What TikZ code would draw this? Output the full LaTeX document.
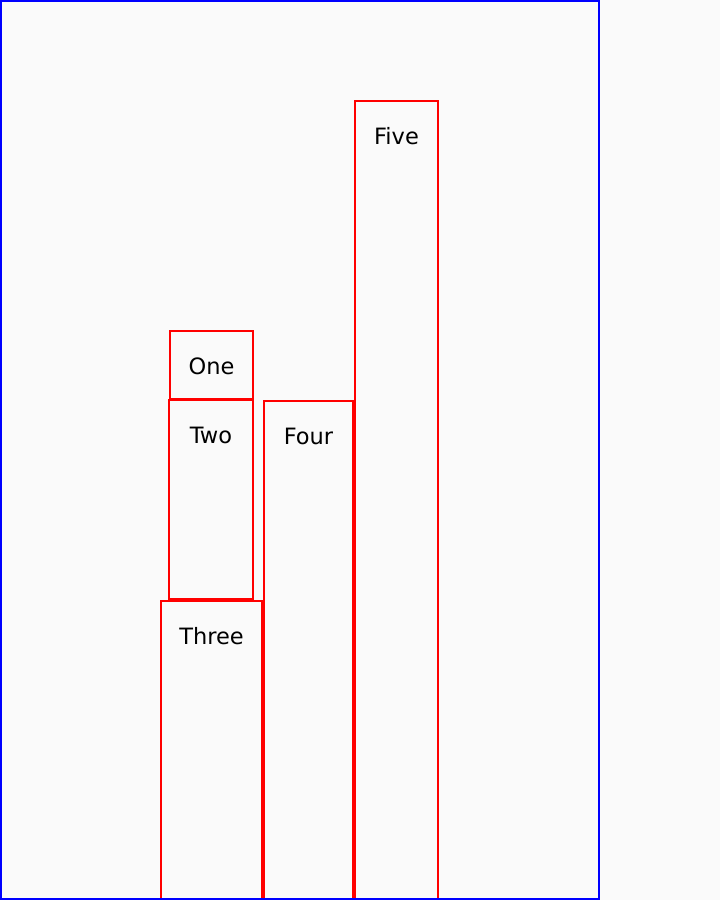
\documentclass[tikz,border=0pt]{standalone}
\usepackage{fontspec}
\setmainfont{DejaVu Sans}
\usepackage{xcolor}
\usetikzlibrary{positioning, backgrounds}
\definecolor{pagebg}{HTML}{FAFAFA}

\begin{document}
\begin{tikzpicture}[
    x=1pt, y=-1pt,
    frame/.style={draw=blue, line width=2pt},
    block/.style={draw=red, line width=2pt, rectangle, inner sep=0pt, outer sep=0pt, anchor=north west},
    blabel/.style={font=\fontsize{22.5}{27}\selectfont, anchor=base, inner sep=0pt},
  ]
  \fill[pagebg] (0,0) rectangle (720,900);
  \useasboundingbox (0,0) rectangle (720,900);
  \node[block, minimum width=83pt, minimum height=68pt] (one) at (170,331) {};
  \node[block, minimum width=84pt, minimum height=199pt] (two) at (169,400) {};
  \node[block, minimum width=101pt, minimum height=299pt] (three) at (161,601) {};
  \node[block, minimum width=89pt, minimum height=499pt] (four) at (264,401) {};
  \node[block, minimum width=83pt, minimum height=799pt] (five) at (355,101) {};
  \node[blabel] (onetext) at ([yshift=-43pt]one.north) {One};
  \node[blabel] (twotext) at ([yshift=-43pt]two.north) {Two};
  \node[blabel] (threetext) at ([yshift=-43pt]three.north) {Three};
  \node[blabel] (fourtext) at ([yshift=-43pt]four.north) {Four};
  \node[blabel] (fivetext) at ([yshift=-43pt]five.north) {Five};
  \draw[frame] (1,1) rectangle (599,899);
\end{tikzpicture}
\end{document}
